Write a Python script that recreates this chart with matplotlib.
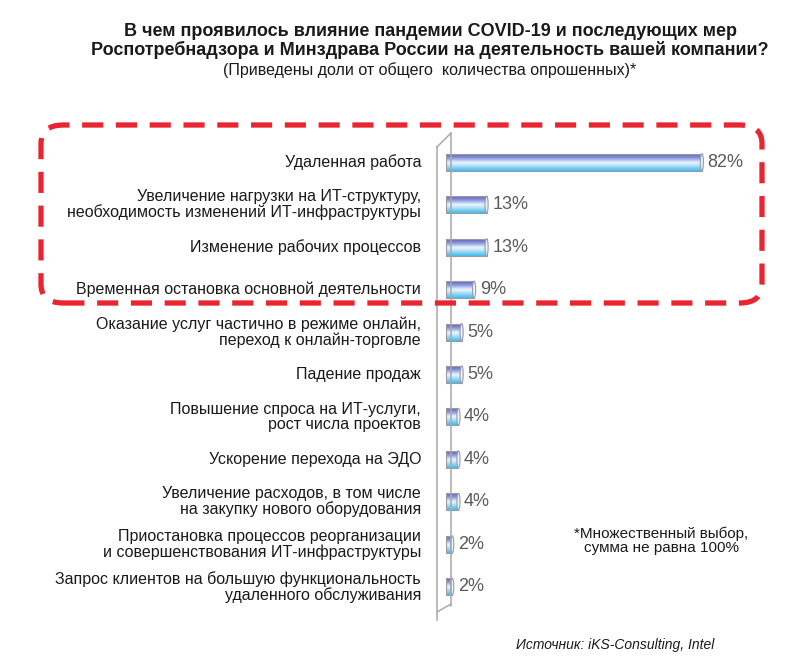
import numpy as np
import matplotlib
matplotlib.use("Agg")
import matplotlib.pyplot as plt
from matplotlib.colors import LinearSegmentedColormap
from matplotlib.patches import FancyBboxPatch, Ellipse
from matplotlib.lines import Line2D

plt.rcParams["font.family"] = ["Liberation Sans", "DejaVu Sans"]

categories = [
    "Удаленная работа",
    "Увеличение нагрузки на ИТ-структуру,\nнеобходимость изменений ИТ-инфраструктуры",
    "Изменение рабочих процессов",
    "Временная остановка основной деятельности",
    "Оказание услуг частично в режиме онлайн,\nпереход к онлайн-торговле",
    "Падение продаж",
    "Повышение спроса на ИТ-услуги,\nрост числа проектов",
    "Ускорение перехода на ЭДО",
    "Увеличение расходов, в том числе\nна закупку нового оборудования",
    "Приостановка процессов реорганизации\nи совершенствования ИТ-инфраструктуры",
    "Запрос клиентов на большую функциональность\nудаленного обслуживания",
]
values = [82, 13, 13, 9, 5, 5, 4, 4, 4, 2, 2]

title = ("В чем проявилось влияние пандемии COVID-19 и последующих мер\n"
         "Роспотребнадзора и Минздрава России на деятельность вашей компании?")
subtitle = "(Приведены доли от общего  количества опрошенных)*"
footnote = "*Множественный выбор,\nсумма не равна 100%"
source = "Источник: iKS-Consulting, Intel"

W, H = 797, 667
fig = plt.figure(figsize=(W / 100, H / 100), dpi=100)

# axes placed on the reference pixel geometry
ax_left, ax_right = 446, 758
ax_top, ax_bottom = 141, 608
ax = fig.add_axes([ax_left / W, 1 - ax_bottom / H, (ax_right - ax_left) / W, (ax_bottom - ax_top) / H])
ax.set_xlim(0, 100)
n = len(values)
ax.set_ylim(n - 0.5, -0.5)
ax.axis("off")

cmap = LinearSegmentedColormap.from_list("bar", [
    (0.0, "#6660b0"), (0.25, "#8c9ee0"), (0.5, "#eef9ff"),
    (0.75, "#9ed8f4"), (1.0, "#3cbce8")])
grad = np.linspace(0, 1, 64).reshape(-1, 1)
bh = 0.40

bars = ax.barh(range(n), values, height=bh, color="none", edgecolor="none")
for i, (b, v) in enumerate(zip(bars, values)):
    x0, y0, w, h = b.get_x(), b.get_y(), b.get_width(), b.get_height()
    im = ax.imshow(grad, cmap=cmap, aspect="auto", extent=(x0, x0 + w, y0 + h, y0),
                   zorder=2, interpolation="bicubic")
    im.set_clip_path(b)
    ax.add_patch(plt.Rectangle((x0, y0), w, h, fill=False, edgecolor="#9a9aa8", lw=0.8, zorder=3))
    ax.add_patch(Ellipse((x0 + w, y0 + h / 2), 1.0, h, facecolor="#e8f4fa",
                         edgecolor="#9a9aa8", lw=0.8, zorder=4))
    ax.text(x0 + w + 1.8, i, f"{v}%", va="center", ha="left", fontsize=13,
            color="#5a5a5a", zorder=5)

for i, c in enumerate(categories):
    ax.text(-8.0, i, c, ha="right", va="center", fontsize=11.5, color="#1a1a1a",
            linespacing=1.0)


def fx(px):
    return px / W


def fy(py):
    return 1 - py / H


# 3D wall lines
wall = dict(color="#a8a8a8", lw=1.1, transform=fig.transFigure)
fig.add_artist(Line2D([fx(437), fx(437)], [fy(147), fy(620)], **wall))
fig.add_artist(Line2D([fx(451), fx(451)], [fy(133), fy(606)], **wall))
fig.add_artist(Line2D([fx(437), fx(451)], [fy(147), fy(133)], **wall))
fig.add_artist(Line2D([fx(437), fx(451)], [fy(612), fy(604)], **wall))

# red dashed highlight box
box = FancyBboxPatch((fx(41), fy(303)), fx(762) - fx(41), fy(125) - fy(303),
                     boxstyle="round,pad=0,rounding_size=0.028",
                     transform=fig.transFigure, fill=False, edgecolor="#e82530",
                     lw=3.8, linestyle=(0, (4, 2.4)), zorder=10)
fig.add_artist(box)

fig.text(fx(430), fy(41), title, ha="center", va="center", fontsize=13,
         fontweight="bold", color="#1a1a1a", linespacing=1.08)
fig.text(fx(430), fy(70), subtitle, ha="center", va="center", fontsize=11.5,
         color="#1a1a1a")
fig.text(fx(661), fy(541), footnote, ha="center", va="center", fontsize=11,
         color="#1a1a1a", linespacing=1.0)
fig.text(fx(615), fy(645), source, ha="center", va="center", fontsize=10,
         style="italic", color="#1a1a1a")

fig.savefig("out.png", dpi=100)
